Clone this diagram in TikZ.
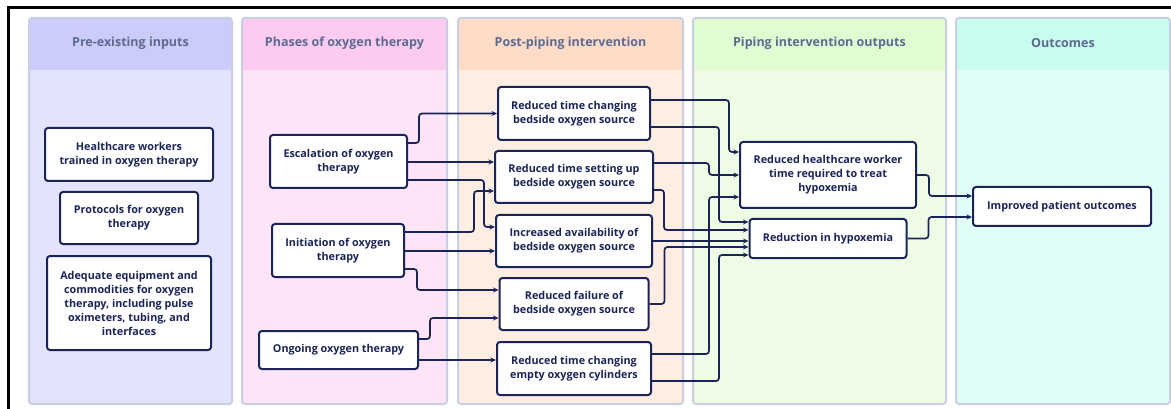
\documentclass[tikz,border=0pt]{standalone}
\usepackage{fontspec}
\setmainfont{Open Sans}
\usetikzlibrary{positioning, arrows.meta}

\definecolor{navy}{HTML}{1B2459}
\definecolor{laneline}{HTML}{C9CEE3}
\definecolor{titlegray}{HTML}{5D6B91}
\definecolor{hdrA}{HTML}{CCCCFA}
\definecolor{bodyA}{HTML}{E3E3FC}
\definecolor{hdrB}{HTML}{FDCBF0}
\definecolor{bodyB}{HTML}{FDE4F8}
\definecolor{hdrC}{HTML}{FFDCC7}
\definecolor{bodyC}{HTML}{FDEDE3}
\definecolor{hdrD}{HTML}{E2FCD2}
\definecolor{bodyD}{HTML}{EFFCE5}
\definecolor{hdrE}{HTML}{C8FCEE}
\definecolor{bodyE}{HTML}{E1FDF8}

\begin{document}
\begin{tikzpicture}[
        x=1pt, y=-1pt,
        node distance=9.5pt,
        lane/.style 2 args={rectangle, rounded corners=3pt, draw=laneline, line width=2pt, fill=#1, minimum height=386, anchor=north west,
            path picture={\fill[#2] (path picture bounding box.north west) rectangle ([yshift=-52pt]path picture bounding box.north east);}},
        lanetitle/.style={minimum height=52, inner sep=0pt, text=titlegray, font=\bfseries\fontsize{12.5}{15}\selectfont},
        box/.style={rectangle, rounded corners=3pt, draw=navy, line width=2pt, fill=white, text=navy, align=center, inner sep=2pt, font=\bfseries\fontsize{10.8}{14}\selectfont},
        arr/.style={-{Stealth[length=5.5pt, width=5pt]}, line width=1.7pt, navy, rounded corners=3pt},
    ]
        \useasboundingbox (0,0) rectangle (1171,409);

        % Outer frame
        \draw[line width=2.5pt] (8.5,420) -- (8.5,7.5) -- (1180,7.5);

        % Swimlanes
        \node[lane={bodyA}{hdrA}, minimum width=203] (inputs) at (28,17) {};
        \node[lane={bodyB}{hdrB}, minimum width=205] (phases) at (241,17) {};
        \node[lane={bodyC}{hdrC}, minimum width=225] (post) at (457,17) {};
        \node[lane={bodyD}{hdrD}, minimum width=253] (outputs) at (692,17) {};
        \node[lane={bodyE}{hdrE}, minimum width=214] (outcomes) at (955,17) {};

        \node[lanetitle, below=0pt of inputs.north] (inputstitle) {Pre-existing inputs};
        \node[lanetitle, below=0pt of phases.north] (phasestitle) {Phases of oxygen therapy};
        \node[lanetitle, below=0pt of post.north] (posttitle) {Post-piping intervention};
        \node[lanetitle, below=0pt of outputs.north] (outputstitle) {Piping intervention outputs};
        \node[lanetitle, below=0pt of outcomes.north] (outcomestitle) {Outcomes};

        % Pre-existing inputs
        \node[box, minimum width=168, minimum height=53] (hw) at (129,154.5) {Healthcare workers\\trained in oxygen therapy};
        \node[box, minimum width=138, minimum height=52, below=9pt of hw] (proto) {Protocols for oxygen\\therapy};
        \node[box, minimum width=164, minimum height=94, below=10pt of proto] (equip) {Adequate equipment and\\commodities for oxygen\\therapy, including pulse\\oximeters, tubing, and\\interfaces};

        % Phases of oxygen therapy
        \node[box, minimum width=137, minimum height=53] (esc) at (338.5,161.5) {Escalation of oxygen\\therapy};
        \node[box, minimum width=132, minimum height=53] (init) at (338,250.5) {Initiation of oxygen\\therapy};
        \node[box, minimum width=159, minimum height=38] (ongo) at (338.5,350) {Ongoing oxygen therapy};

        % Post-piping intervention
        \node[box, minimum width=152, minimum height=53] (chg) at (574,113.5) {Reduced time changing\\bedside oxygen source};
        \node[box, minimum width=158, minimum height=52, below=9pt of chg] (setup) {Reduced time setting up\\bedside oxygen source};
        \node[box, minimum width=156, minimum height=52, below=10pt of setup] (avail) {Increased availability of\\bedside oxygen source};
        \node[box, minimum width=149, minimum height=52, below=9pt of avail] (fail) {Reduced failure of\\bedside oxygen source};
        \node[box, minimum width=154, minimum height=53, below=10pt of fail] (cyl) {Reduced time changing\\empty oxygen cylinders};

        % Piping intervention outputs
        \node[box, minimum width=176, minimum height=66] (hcw) at (828,175) {Reduced healthcare worker\\time required to treat\\hypoxemia};
        \node[box, minimum width=157, minimum height=39, below=9pt of hcw] (hypo) {Reduction in hypoxemia};

        % Outcomes
        \node[box, minimum width=178, minimum height=39] (outc) at (1062,206.5) {Improved patient outcomes};

        % Phases to interventions
        \draw[arr] ([yshift=18.5pt]esc.east) -- ++(11,0) |- (chg.west);
        \draw[arr] ([yshift=-0.5pt]esc.east) -- ([yshift=-0.5pt]esc.east -| setup.west);
        \draw[arr] ([yshift=-18.5pt]esc.east) -- ++(76,0) |- ([yshift=14pt]avail.west);
        \draw[arr] ([yshift=18.5pt]init.east) -- ++(69,0) |- ([yshift=-14pt]setup.west);
        \draw[arr] ([yshift=-0.5pt]init.east) -- ([yshift=-0.5pt]init.east -| avail.west);
        \draw[arr] ([yshift=-18.5pt]init.east) -- ++(12,0) |- ([yshift=14pt]fail.west);
        \draw[arr] ([yshift=11pt]ongo.east) -- ++(11,0) |- ([yshift=-14pt]fail.west);
        \draw[arr] ([yshift=-10pt]ongo.east) -- ([yshift=-10pt]ongo.east -| cyl.west);

        % Interventions to outputs
        \draw[arr] ([yshift=13.5pt]chg.east) -- ++(78,0) |- ([yshift=23pt]hcw.west);
        \draw[arr] ([yshift=-13.5pt]chg.east) -- ++(68,0) |- ([yshift=16.5pt]hypo.west);
        \draw[arr] ([yshift=14pt]setup.east) -- ++(55,0) |- (hcw.west);
        \draw[arr] ([yshift=-13pt]setup.east) -- ++(10,0) |- ([yshift=8.5pt]hypo.west);
        \draw[arr] (avail.east) -- (avail.east -| hypo.west);
        \draw[arr] (fail.east) -- ++(15,0) |- ([yshift=-8.5pt]hypo.west);
        \draw[arr] ([yshift=14.5pt]cyl.east) -- ++(57,0) |- ([yshift=-22pt]hcw.west);
        \draw[arr] ([yshift=-12.5pt]cyl.east) -- ++(67,0) |- ([yshift=-16.5pt]hypo.west);

        % Outputs to outcome
        \draw[arr] (hcw.east) -- ++(12,0) |- ([yshift=10.5pt]outc.west);
        \draw[arr] (hypo.east) -- ++(21,0) |- ([yshift=-10.5pt]outc.west);
    \end{tikzpicture}
\end{document}
